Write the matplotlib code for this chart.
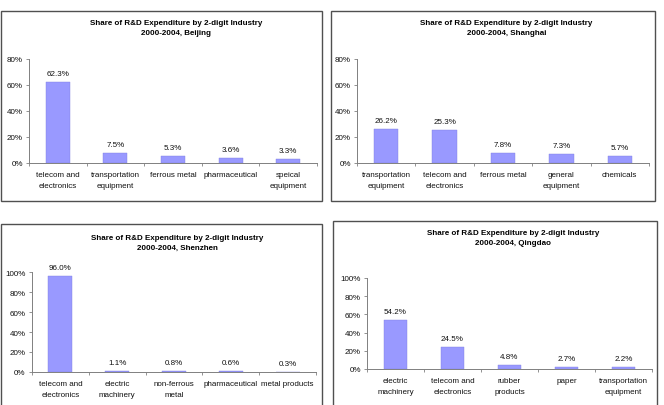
import matplotlib.pyplot as plt
from matplotlib.patches import Rectangle
from matplotlib.ticker import PercentFormatter

plt.rcParams['font.family'] = ['Liberation Sans', 'DejaVu Sans']

# ---- data (shares, %) ----
beijing_cats = ['telecom and\nelectronics', 'transportation\nequipment', 'ferrous metal',
                'pharmaceutical', 'speical\nequipment']
beijing_vals = [62.3, 7.5, 5.3, 3.6, 3.3]

shanghai_cats = ['transportation\nequipment', 'telecom and\nelectronics', 'ferrous metal',
                 'general\nequipment', 'chemicals']
shanghai_vals = [26.2, 25.3, 7.8, 7.3, 5.7]

shenzhen_cats = ['telecom and\nelectronics', 'electric\nmachinery', 'non-ferrous\nmetal',
                 'pharmaceutical', 'metal products']
shenzhen_vals = [96.0, 1.1, 0.8, 0.6, 0.3]

qingdao_cats = ['electric\nmachinery', 'telecom and\nelectronics', 'rubber\nproducts',
                'paper', 'transportation\nequipment']
qingdao_vals = [54.2, 24.5, 4.8, 2.7, 2.2]

W, H = 664, 406
BAR = '#9999ff'
FS = 5.8


def box(fig, x0, y0, x1, y1):
    # panel frame, pixel coords from top-left
    fig.patches.append(Rectangle((x0 / W, 1 - y1 / H), (x1 - x0) / W, (y1 - y0) / H,
                                 transform=fig.transFigure, fill=False,
                                 edgecolor='#505050', lw=1.0))


def panel(fig, cats, vals, city, ymax, ystep, ax_px, title_y):
    # ax_px: left, right, y of 0, y of ymax (pixels from top-left)
    l, r, y0, ytop = ax_px
    ax = fig.add_axes([l / W, 1 - y0 / H, (r - l) / W, (y0 - ytop) / H])
    x = range(len(vals))
    ax.bar(x, vals, width=0.42, color=BAR, edgecolor='#8080e0', lw=0.3)
    for i, v in enumerate(vals):
        ax.annotate('%.1f%%' % v, (i, v), xytext=(0, 3.6), textcoords='offset points',
                    ha='center', va='bottom', fontsize=FS, color='#111111')
    ax.set_xlim(-0.5, len(vals) - 0.5)
    ax.set_ylim(0, ymax)
    ax.set_yticks(range(0, ymax + 1, ystep))
    ax.yaxis.set_major_formatter(PercentFormatter(decimals=0))
    ax.set_xticks([i - 0.5 for i in range(len(vals) + 1)], minor=False)
    ax.set_xticklabels([])
    ax.set_xticks(list(x), minor=True)
    ax.set_xticklabels(cats, minor=True, fontsize=FS, linespacing=1.9)
    ax.tick_params(axis='x', which='minor', length=0, pad=5.5, colors='#111111')
    ax.tick_params(axis='x', which='major', length=2.5, width=0.6, color='#808080')
    ax.tick_params(axis='y', length=2.5, width=0.6, color='#808080', labelsize=FS,
                   labelcolor='#111111', pad=2)
    for s in ['top', 'right']:
        ax.spines[s].set_visible(False)
    for s in ['left', 'bottom']:
        ax.spines[s].set_color('#808080')
        ax.spines[s].set_linewidth(0.7)
    cx = (l + r) / 2 / W
    fig.text(cx + 0.005, 1 - title_y / H,
             'Share of R&D Expenditure by 2-digit Industry\n2000-2004, ' + city,
             ha='center', va='top', fontsize=FS, fontweight='bold', linespacing=1.6)
    return ax


fig = plt.figure(figsize=(W / 100, H / 100), dpi=100)

box(fig, 0.5, 12, 322, 202)
box(fig, 331, 12, 655, 202)
box(fig, 0.5, 225, 322, 410)
box(fig, 333, 222, 657, 410)

panel(fig, beijing_cats, beijing_vals, 'Beijing', 80, 20, (29, 317, 164, 60), 20)
panel(fig, shanghai_cats, shanghai_vals, 'Shanghai', 80, 20, (357, 649, 164, 60), 20)
panel(fig, shenzhen_cats, shenzhen_vals, 'Shenzhen', 100, 20, (32, 316, 373, 273), 235)
panel(fig, qingdao_cats, qingdao_vals, 'Qingdao', 100, 20, (367, 652, 370, 279), 230)

fig.savefig('out.png', dpi=100, facecolor='white')
